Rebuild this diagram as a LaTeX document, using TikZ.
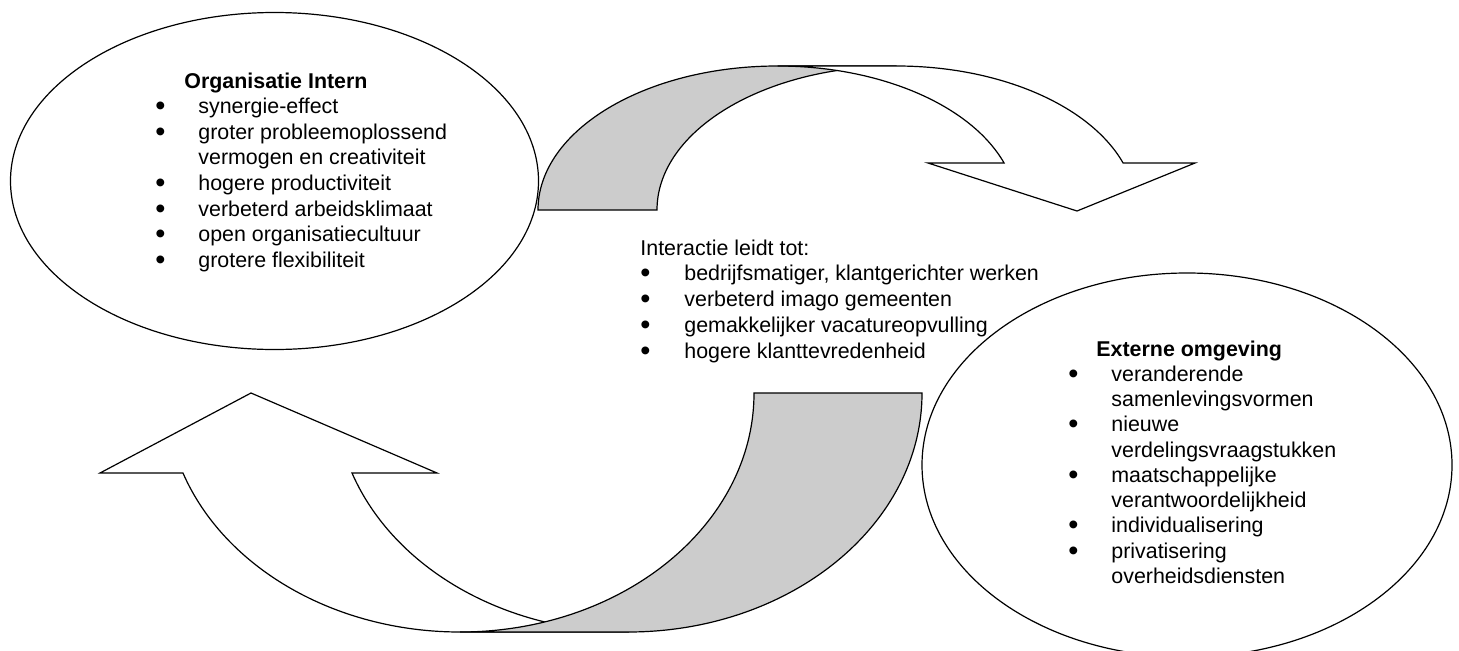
\documentclass[tikz,border=0pt]{standalone}
\usepackage{fontspec}
\setmainfont{Liberation Sans}
\usetikzlibrary{shapes.geometric}

\newcommand{\itemdot}{\raisebox{-1pt}{\scalebox{1.35}{\textbullet}}}

\begin{document}
\begin{tikzpicture}[
    x=0.5pt, y=0.5pt,
    ell/.style={ellipse, draw, line width=0.6pt, inner sep=0pt},
    band/.style={draw, line width=0.6pt, line join=miter, fill=white},
    back/.style={band, fill=black!20},
    lst/.style={inner sep=0pt, anchor=base west}
]
\useasboundingbox (0,0) rectangle (1459,650);

% curved arrow below (up to the left)
\path[band] (460,18) arc[start angle=270, end angle=199.56, x radius=294, y radius=239]
    -- (100,177) -- (251,257) -- (437,177) -- (352,177)
    arc[start angle=199.56, end angle=270, x radius=294, y radius=239] -- cycle;
\path[back] (754,257) arc[start angle=0, end angle=-90, x radius=294, y radius=239]
    -- (628,18) arc[start angle=-90, end angle=0, x radius=294, y radius=239] -- cycle;

% curved arrow above (down to the right)
\path[back] (538,440) arc[start angle=180, end angle=90, x radius=239.6, y radius=144]
    -- (896.6,584) arc[start angle=90, end angle=180, x radius=239.6, y radius=144] -- cycle;
\path[band] (777.6,584) arc[start angle=90, end angle=19.05, x radius=239.6, y radius=144]
    -- (928,487) -- (1077,439) -- (1195,487) -- (1123.1,487)
    arc[start angle=19.05, end angle=90, x radius=239.6, y radius=144] -- cycle;

% ellipses
\node[ell, minimum width=264pt, minimum height=168.5pt] (intern) at (274.5,469) {};
\node[ell, minimum width=265pt, minimum height=192pt] (extern) at (1187,185) {};

% texts
\node[lst, font=\fontsize{10.7}{12.83}\selectfont] (internTxt) at (155,562) {%
  \begin{tabular}[t]{@{}p{21.5pt}@{}l@{}}
  \multicolumn{2}{@{\hspace{14.5pt}}l@{}}{\textbf{Organisatie Intern}}\\
  \itemdot & synergie-effect\\
  \itemdot & groter probleemoplossend\\
           & vermogen en creativiteit\\
  \itemdot & hogere productiviteit\\
  \itemdot & verbeterd arbeidsklimaat\\
  \itemdot & open organisatiecultuur\\
  \itemdot & grotere flexibiliteit
  \end{tabular}};

\node[lst, font=\fontsize{10.7}{12.9}\selectfont] (interactie) at (640,395) {%
  \begin{tabular}[t]{@{}p{22pt}@{}l@{}}
  \multicolumn{2}{@{}l@{}}{Interactie leidt tot:}\\
  \itemdot & bedrijfsmatiger, klantgerichter werken\\
  \itemdot & verbeterd imago gemeenten\\
  \itemdot & gemakkelijker vacatureopvulling\\
  \itemdot & hogere klanttevredenheid
  \end{tabular}};

\node[lst, font=\fontsize{10.7}{12.63}\selectfont] (externTxt) at (1068,294) {%
  \begin{tabular}[t]{@{}p{21.5pt}@{}l@{}}
  \multicolumn{2}{@{\hspace{14pt}}l@{}}{\textbf{Externe omgeving}}\\
  \itemdot & veranderende\\
           & samenlevingsvormen\\
  \itemdot & nieuwe\\
           & verdelingsvraagstukken\\
  \itemdot & maatschappelijke\\
           & verantwoordelijkheid\\
  \itemdot & individualisering\\
  \itemdot & privatisering\\
           & overheidsdiensten
  \end{tabular}};

\end{tikzpicture}
\end{document}
